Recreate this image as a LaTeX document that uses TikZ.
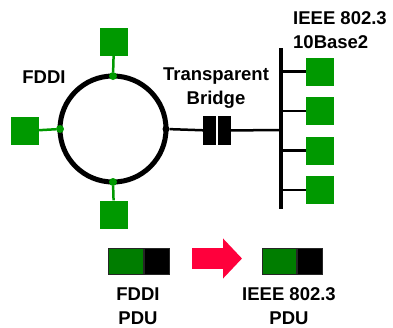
\documentclass[tikz,border=0pt]{standalone}
\usepackage{fontspec}
\setmainfont{Liberation Sans}
\usepackage{tikz}
\usetikzlibrary{arrows.meta,positioning}
\definecolor{stationgreen}{RGB}{0,153,0}
\definecolor{pdugreen}{RGB}{0,125,0}
\definecolor{arrowred}{RGB}{255,0,60}

\begin{document}
\begin{tikzpicture}[x=1pt,y=-1pt,
  station/.style={fill=stationgreen,minimum size=28pt,inner sep=0pt},
  gdot/.style={circle,fill=stationgreen,minimum size=8pt,inner sep=0pt},
  stub/.style={stationgreen,line width=2.5pt},
  tap/.style={line width=2.5pt},
  half/.style={fill,minimum width=13pt,minimum height=29pt,inner sep=0pt},
  pdupart/.style={draw=black!85,line width=1pt,minimum height=26pt,inner sep=0pt},
  lbl/.style={font=\bfseries\fontsize{18.5}{24}\selectfont,inner sep=0pt}]
  \useasboundingbox (0,0) rectangle (393,327);
  % FDDI ring
  \node[draw,circle,line width=5pt,minimum size=106pt,inner sep=0pt,outer sep=0pt] (ring) at (113,129) {};
  \node[gdot] (dtop) at (ring.north) {};
  \node[gdot] (dleft) at (ring.west) {};
  \node[gdot] (dbot) at (ring.south) {};
  \node[circle,fill,minimum size=7pt,inner sep=0pt] (dright) at (ring.east) {};
  \node[station] (stop) at (114,42) {};
  \node[station] (sleft) at (25,131) {};
  \node[station] (sbot) at (114,214.5) {};
  \draw[stub] (stop) -- (dtop);
  \draw[stub] (sleft) -- (dleft);
  \draw[stub] (sbot) -- (dbot);
  \node[lbl] (fddi) at (44,77) {FDDI};
  % bridge
  \node[half] (brl) at (209.5,130.5) {};
  \node[half] (brr) at (224.5,130.5) {};
  \node[lbl,align=center] (brlabel) at (216,88.5) {Transparent\\Bridge};
  % 10Base2 bus
  \coordinate (bustop) at (281,48);
  \coordinate (busbot) at (281,209);
  \coordinate (busbr) at (281,130);
  \draw[line width=4.5pt] (bustop) -- (busbot);
  \draw[tap] (dright) -- (brl);
  \draw[tap] (brr) -- (busbr);
  \foreach \i/\y in {1/71.5,2/111,3/150.5,4/190}{
    \coordinate (tap\i) at (281,\y);
    \node[station] (st\i) at (320,\y) {};
    \draw[tap] (tap\i) -- (st\i);
  }
  \node[lbl,align=left,anchor=north west] (ieee) at (293,11) {IEEE 802.3\\10Base2};
  % PDUs
  \node[pdupart,fill=pdugreen,minimum width=35pt] (fddig) at (125.5,261) {};
  \node[pdupart,fill=black,minimum width=25pt,right=0pt of fddig] (fddib) {};
  \node[pdupart,fill=pdugreen,minimum width=34pt] (ieeeg) at (279,261) {};
  \node[pdupart,fill=black,minimum width=25pt,right=0pt of ieeeg] (ieeeb) {};
  \coordinate (convs) at (192,258.5);
  \coordinate (conve) at (242,258.5);
  \draw[arrowred,line width=21pt,-{Triangle[length=19pt,width=39pt]}] (convs) -- (conve);
  \node[lbl,align=center] (fddipdu) at (138,306) {FDDI\\PDU};
  \node[lbl,align=center] (ieeepdu) at (289,306) {IEEE 802.3\\PDU};
\end{tikzpicture}
\end{document}
